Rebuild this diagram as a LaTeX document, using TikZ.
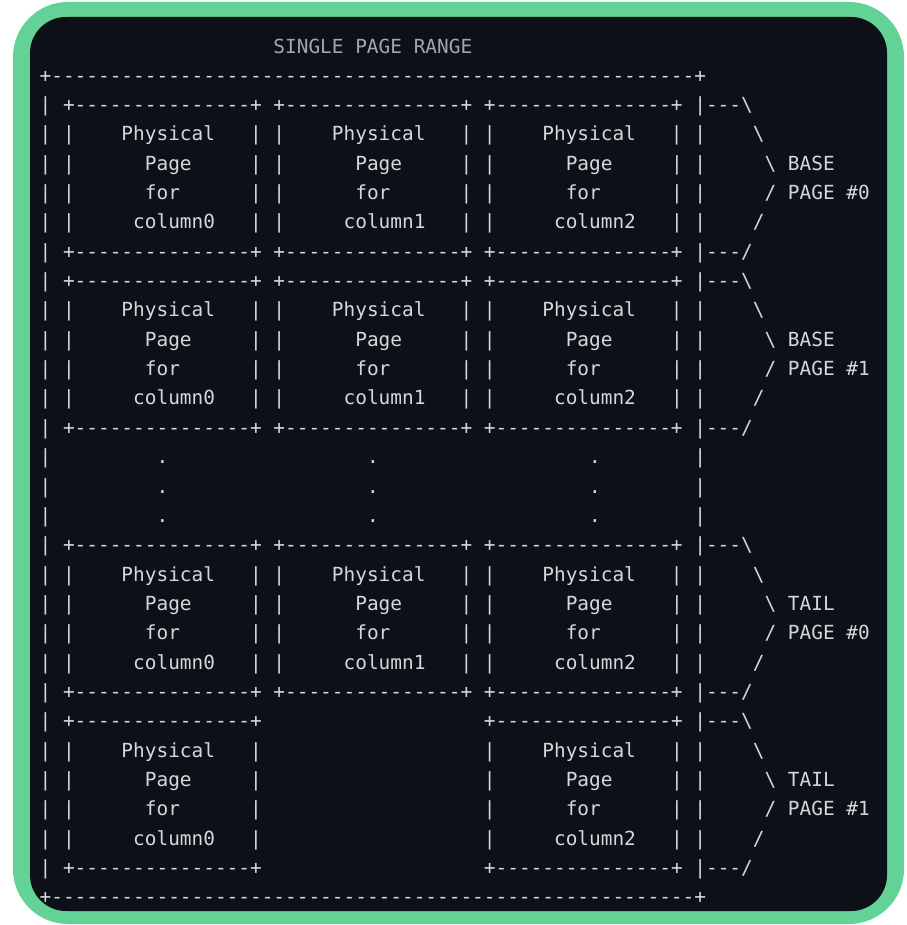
\documentclass[tikz,border=0pt]{standalone}
\usepackage{fontspec}
\setmonofont{DejaVu Sans Mono}
\definecolor{frame}{HTML}{63D297}
\definecolor{codebg}{HTML}{0D1117}
\definecolor{codefg}{HTML}{D3D8DD}
\definecolor{titlefg}{HTML}{A0A7AE}
\def\dd{---------------}
\def\bt{+\dd+}
\def\cP{~~~~Physical~~~}
\def\cG{~~~~~~Page~~~~~}
\def\cF{~~~~~~for~~~~~~}
\def\cC#1{~~~~~column#1~~~}
\def\tn{~~~~~~~~~~}
\def\gap{\tn~~~~~~~~~}
\def\bsl{\textbackslash}
\newcommand\asline[2]{\node[asc] (l#1) at (39.66, {82.1+29.35*(#1-1)}) {#2};}
\begin{document}
\begin{tikzpicture}[x=1pt,y=-1pt,
  asc/.style={anchor=base west, inner sep=0pt, outer sep=0pt, text=codefg,
    font=\ttfamily\fontsize{19.42}{29.35}\selectfont}]
\useasboundingbox (0,0) rectangle (906,925);
\fill[white] (0,0) rectangle (906,925);
\fill[frame, rounded corners=55pt] (13,2) rectangle (904,924);
\fill[codebg, rounded corners=36pt] (30,17) rectangle (887,911);
% title
\node[asc, text=titlefg] (l0) at (273.46, 53.5) {SINGLE~PAGE~RANGE};
% outer top border
\asline{1}{+\dd\dd\dd----------+}
% group 1
\asline{2}{|~\bt~\bt~\bt~|---\bsl}
\asline{3}{|~|\cP|~|\cP|~|\cP|~|~~~~\bsl}
\asline{4}{|~|\cG|~|\cG|~|\cG|~|~~~~~\bsl~BASE}
\asline{5}{|~|\cF|~|\cF|~|\cF|~|~~~~~/~PAGE~\#0}
\asline{6}{|~|\cC0|~|\cC1|~|\cC2|~|~~~~/}
\asline{7}{|~\bt~\bt~\bt~|---/}
% group 2
\asline{8}{|~\bt~\bt~\bt~|---\bsl}
\asline{9}{|~|\cP|~|\cP|~|\cP|~|~~~~\bsl}
\asline{10}{|~|\cG|~|\cG|~|\cG|~|~~~~~\bsl~BASE}
\asline{11}{|~|\cF|~|\cF|~|\cF|~|~~~~~/~PAGE~\#1}
\asline{12}{|~|\cC0|~|\cC1|~|\cC2|~|~~~~/}
\asline{13}{|~\bt~\bt~\bt~|---/}
% dots
\asline{14}{|~~~~~~~~~.~~~~~~~~~~~~~~~~~.~~~~~~~~~~~~~~~~~~.~~~~~~~~|}
\asline{15}{|~~~~~~~~~.~~~~~~~~~~~~~~~~~.~~~~~~~~~~~~~~~~~~.~~~~~~~~|}
\asline{16}{|~~~~~~~~~.~~~~~~~~~~~~~~~~~.~~~~~~~~~~~~~~~~~~.~~~~~~~~|}
% group 3
\asline{17}{|~\bt~\bt~\bt~|---\bsl}
\asline{18}{|~|\cP|~|\cP|~|\cP|~|~~~~\bsl}
\asline{19}{|~|\cG|~|\cG|~|\cG|~|~~~~~\bsl~TAIL}
\asline{20}{|~|\cF|~|\cF|~|\cF|~|~~~~~/~PAGE~\#0}
\asline{21}{|~|\cC0|~|\cC1|~|\cC2|~|~~~~/}
\asline{22}{|~\bt~\bt~\bt~|---/}
% group 4
\asline{23}{|~\bt\gap\bt~|---\bsl}
\asline{24}{|~|\cP|\gap|\cP|~|~~~~\bsl}
\asline{25}{|~|\cG|\gap|\cG|~|~~~~~\bsl~TAIL}
\asline{26}{|~|\cF|\gap|\cF|~|~~~~~/~PAGE~\#1}
\asline{27}{|~|\cC0|\gap|\cC2|~|~~~~/}
\asline{28}{|~\bt\gap\bt~|---/}
% outer bottom border
\asline{29}{+\dd\dd\dd----------+}
\end{tikzpicture}
\end{document}
